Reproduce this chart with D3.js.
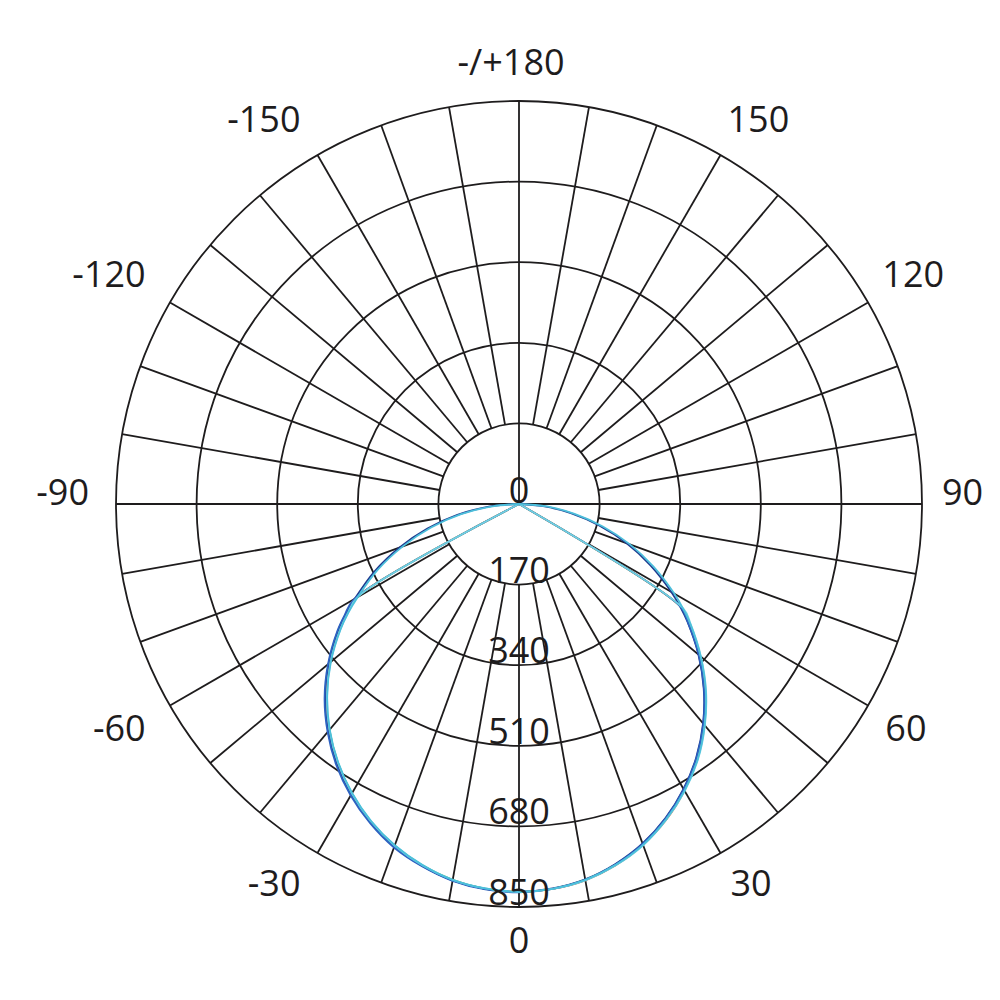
<!DOCTYPE html>
<html>
<head>
<meta charset="utf-8">
<script src="https://cdn.jsdelivr.net/npm/d3@7"></script>
<style>
  html, body { margin: 0; padding: 0; background: #ffffff; }
  svg { display: block; }
  text { font-family: "Open Sans", "Noto Sans", sans-serif; fill: #1e1c1d; font-weight: 500; }
</style>
</head>
<body>
<svg id="chart" width="1000" height="1000"></svg>
<script>
// ---------- data ----------
const gammaAngles = [-90,-85,-80,-75,-70,-65,-60,-57.5,-55,-50,-45,-40,-35,-30,-25,-20,-15,-10,-5,
  0,5,10,15,20,25,30,35,40,45,50,55,57.5,60,65,70,75,80,85,90];

const ringValues = [170, 340, 510, 680, 850];
const ringLabels = ["170", "340", "510", "680", "850"];
const maxValue = 850;

const angleTickValues = [180, 150, 120, 90, 60, 30, 0, -30, -60, -90, -120, -150];
const angleTickLabels = ["-/+180", "150", "120", "90", "60", "30", "0", "-30", "-60", "-90", "-120", "-150"];

const spokeAngles = d3.range(-180, 180, 10);

// series (values along gammaAngles)
const seriesNavy = [0,64,132,200,268,336,400,434,466,524,578,626,670,708,741,769,790,806,815,
  818,814,804,786,762,731,694,652,604,551,494,434,403,371,306,241,175,111,51,0];
const seriesCyan = [0,56,124,192,260,329,393,427,459,518,572,621,665,704,738,766,788,805,814,
  818,815,805,788,765,734,698,657,609,557,500,441,410,378,313,249,183,119,59,0];
const seriesBlue = [0,0,0,0,0,0,402,436,468,526,580,628,672,710,743,771,791,807,816,
  819,815,805,787,763,732,695,653,605,552,495,435,404,0,0,0,0,0,0,0];
const seriesOrange = [0,0,0,0,0,0,400,433,465,523,577,625,669,707,740,768,790,806,815,
  818,815,806,789,765,735,698,656,608,555,498,438,407,0,0,0,0,0,0,0];
const seriesGreen = [0,0,0,0,0,0,397,430,462,520,574,622,666,705,739,767,789,805,815,
  818,815,805,788,764,733,697,655,607,554,497,437,406,0,0,0,0,0,0,0];
const seriesLightCyan = [0,0,0,0,0,0,394,428,460,519,573,622,666,705,739,767,789,805,814,
  818,815,806,789,766,735,699,658,610,558,501,442,411,0,0,0,0,0,0,0];

const seriesList = [
  { name: "C90-1", values: seriesGreen, color: "#7cc142" },
  { name: "C45-1", values: seriesOrange, color: "#ec6a2c" },
  { name: "C0",    values: seriesNavy, color: "#1f3b8f" },
  { name: "C90-2", values: seriesBlue, color: "#2d62c2" },
  { name: "C45-2", values: seriesLightCyan, color: "#6fd0e2" },
  { name: "C0-2",  values: seriesCyan, color: "#4cbfdb" }
];

// ---------- layout ----------
const cx = 519, cy = 504, R = 403;
const fontSize = 36;
const capH = 0.714 * fontSize;
const gridColor = "#1e1c1d";
const gridWidth = 1.8;

const svg = d3.select("#chart");
const g = svg.append("g").attr("transform", `translate(${cx},${cy})`);

const rScale = d3.scaleLinear().domain([0, maxValue]).range([0, R]);
// gamma 0 at bottom, +90 at right, 180 at top
const aScale = d3.scaleLinear().domain([-180, 180]).range([2 * Math.PI, 0]);
const toXY = (deg, r) => {
  const a = aScale(deg);
  return [r * Math.sin(a), -r * Math.cos(a)];
};

// ---------- grid ----------
g.selectAll("circle.ring")
  .data(ringValues)
  .join("circle")
  .attr("class", "ring")
  .attr("r", d => rScale(d))
  .attr("fill", "none")
  .attr("stroke", gridColor)
  .attr("stroke-width", gridWidth);

const innerR = rScale(ringValues[0]);
g.selectAll("line.spoke")
  .data(spokeAngles)
  .join("line")
  .attr("class", "spoke")
  .each(function (d) {
    const start = (d === 90 || d === -90 || d === -180) ? 0 : innerR;
    const p0 = toXY(d, start), p1 = toXY(d, R);
    d3.select(this).attr("x1", p0[0]).attr("y1", p0[1]).attr("x2", p1[0]).attr("y2", p1[1]);
  })
  .attr("stroke", gridColor)
  .attr("stroke-width", gridWidth);
{
  const p0 = toXY(90, 0), p1 = toXY(90, R);
  g.append("line").attr("x1", p0[0]).attr("y1", p0[1]).attr("x2", p1[0]).attr("y2", p1[1])
    .attr("stroke", gridColor).attr("stroke-width", gridWidth);
}

// ---------- curves ----------
const line = d3.lineRadial()
  .angle(d => aScale(d.a))
  .radius(d => rScale(d.v))
  .curve(d3.curveCatmullRom.alpha(0.5));

g.selectAll("path.series")
  .data(seriesList)
  .join("path")
  .attr("class", "series")
  .attr("d", s => {
    // drop repeated zero points so the path runs straight to the centre
    const pts = gammaAngles.map((a, i) => ({ a, v: s.values[i] }));
    const kept = pts.filter((p, i) => p.v !== 0 || i === 0 || i === pts.length - 1 ||
      (pts[i - 1].v !== 0) || (pts[i + 1].v !== 0));
    return line(kept);
  })
  .attr("fill", "none")
  .attr("stroke", s => s.color)
  .attr("stroke-width", 1.8)
  .attr("stroke-linejoin", "round");

// ---------- ring labels ----------
g.append("text")
  .attr("x", 0).attr("y", -1.5)
  .attr("text-anchor", "middle")
  .attr("font-size", fontSize)
  .text("0");
g.selectAll("text.ringLabel")
  .data(ringValues)
  .join("text")
  .attr("class", "ringLabel")
  .attr("x", 0)
  .attr("y", d => rScale(d) - 2)
  .attr("text-anchor", "middle")
  .attr("font-size", fontSize)
  .text((d, i) => ringLabels[i]);

// ---------- angle labels ----------
const labelR = R + 20;
g.selectAll("text.angleLabel")
  .data(angleTickValues)
  .join("text")
  .attr("class", "angleLabel")
  .attr("font-size", fontSize)
  .each(function (d, i) {
    const [x, y] = toXY(d, labelR);
    const sx = x / labelR, sy = y / labelR;
    const anchor = sx > 0.01 ? "start" : (sx < -0.01 ? "end" : "middle");
    let by, bx = x;
    if (sy > 0.01) by = y + capH;
    else if (sy < -0.01) by = y - 6;
    else by = y + 1;
    if (sx < -0.01) bx = x - 7;
    if (sx > 0.01 && sy < -0.01) bx = x - 3;
    if (Math.abs(sx) <= 0.01 && sy < 0) bx = x - 8;
    d3.select(this)
      .attr("x", bx).attr("y", by)
      .attr("text-anchor", anchor)
      .text(angleTickLabels[i]);
  });
</script>
</body>
</html>
